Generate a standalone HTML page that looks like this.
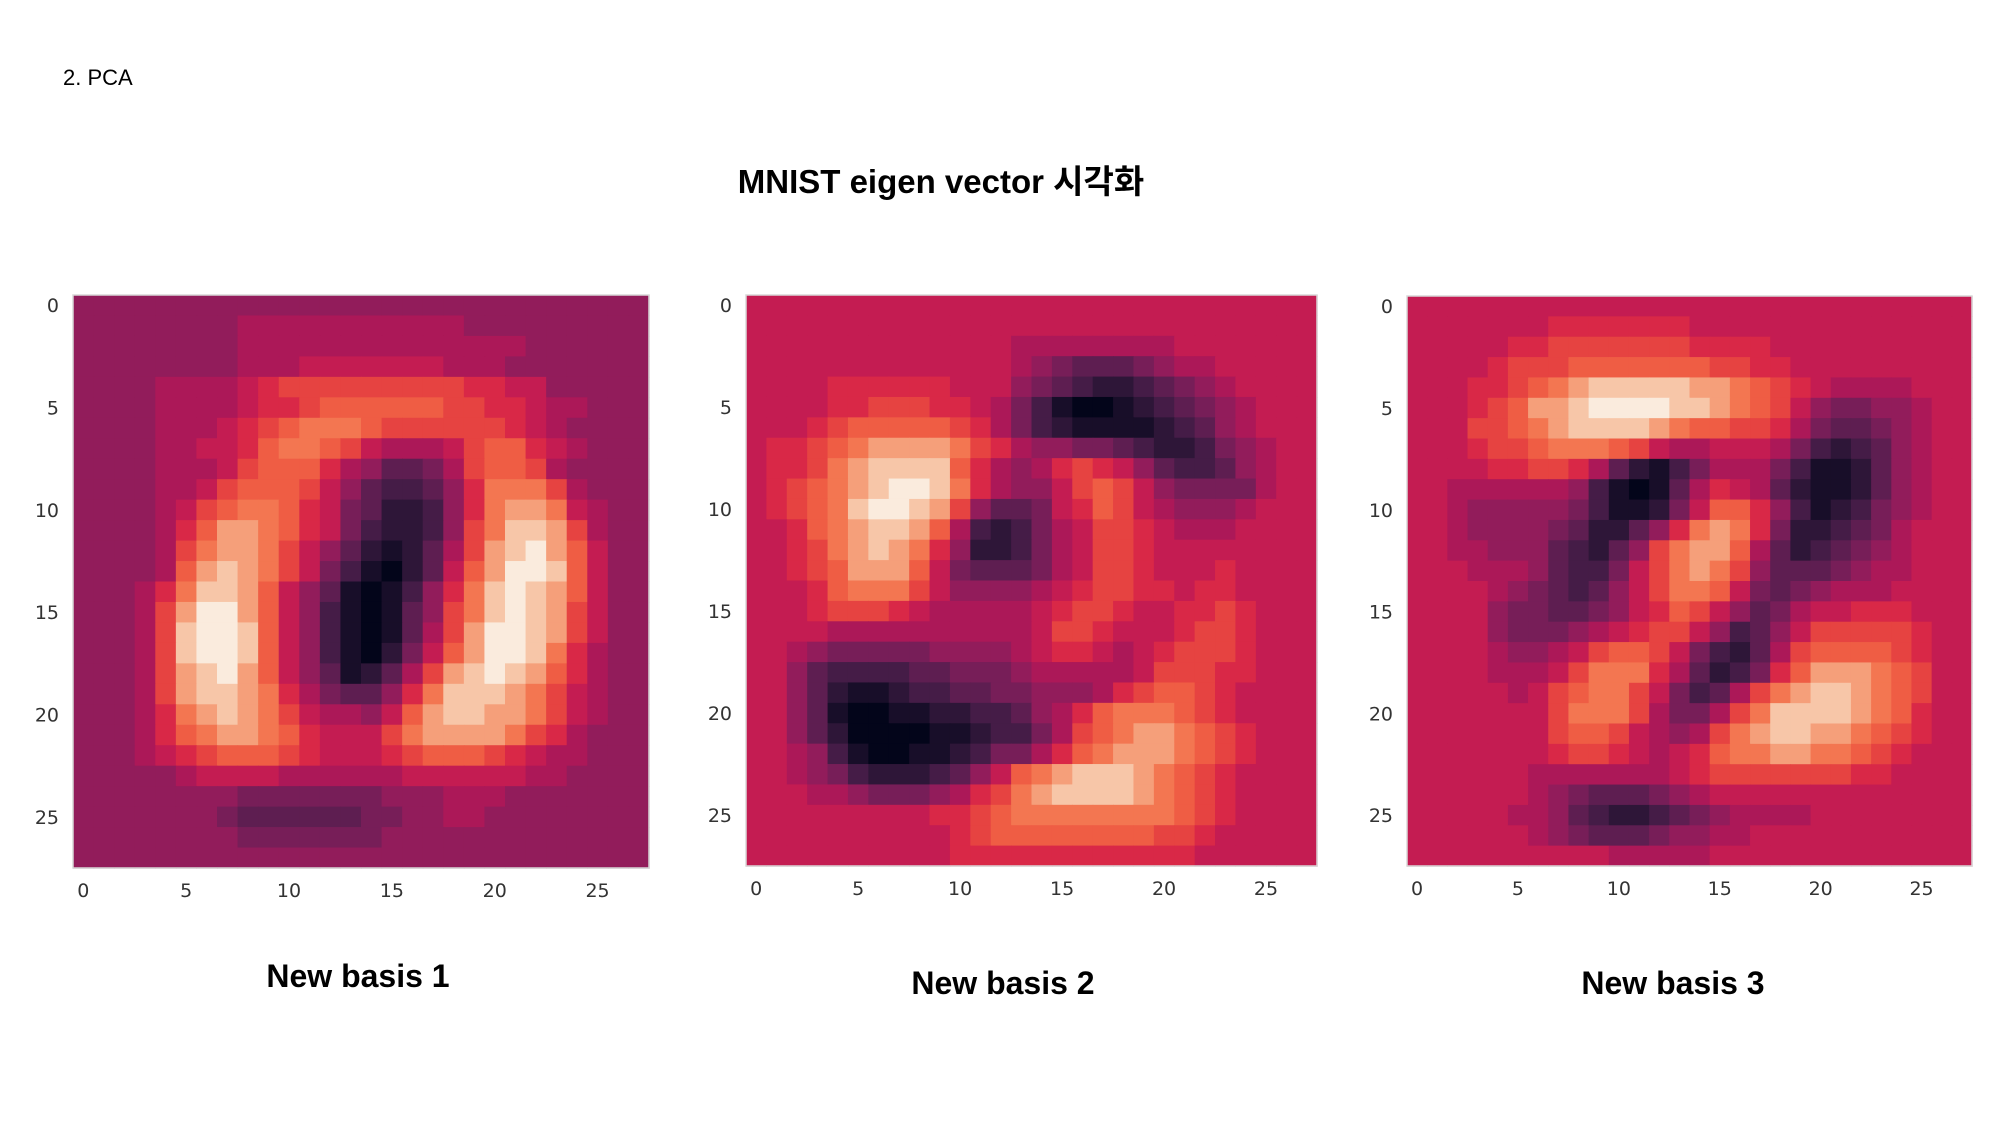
<!DOCTYPE html>
<html><head><meta charset="utf-8"><style>
html,body{margin:0;padding:0;background:#fff;}
svg{display:block;}
</style></head><body>
<svg id="chart" width="2000" height="1125" viewBox="0 0 2000 1125" xmlns="http://www.w3.org/2000/svg">
<text x="63" y="85" font-family="'Liberation Sans','Noto Sans CJK KR',sans-serif" font-size="22" fill="#000">2. PCA</text>
<text x="941" y="193" text-anchor="middle" font-family="'Liberation Sans','Noto Sans CJK KR',sans-serif" font-size="33" font-weight="bold" fill="#000">MNIST eigen vector 시각화</text>
<g id="panels"></g>
</svg>
<script>
const ticks = [0,5,10,15,20,25];
const tickLabels = ["0","5","10","15","20","25"];
const panelTitles = ["New basis 1","New basis 2","New basis 3"];
const basis1 = [
"6666666666666666666666666666",
"6666666677777777777666666666",
"6666666677777777777777666666",
"6666666677788888887776666666",
"6666777789aaaaaaaaa998866666",
"66667777899abbbbbbaa99877666",
"666677789abcccbaaaaaa9876666",
"666677889bccba87778abb987666",
"66667778abbb9764457abba76666",
"6666778abbba86433469ccca7666",
"666678abccb985422369cddc8766",
"666679bddcb98532236aceeda766",
"66667acddca86421247adefdb866",
"66667bdedca85310248bdffeb866",
"66679ceedb864101369cefedb866",
"6667adffdb86310146acefeda866",
"6667aeffeb86310147adffeda866",
"6667aeffeb86310258bdffec9766",
"6667adefdb8641247adefedb9766",
"6667adeedc9754469ceeedca8766",
"66679cdedca87768bdeeddca8766",
"66679bcddcb9888acddddca97666",
"666789abbba98889abbba9877666",
"6666678888777777888888776666",
"6666666655555556667776666666",
"6666666544444455667766666666",
"6666666655555556666666666666",
"6666666666666666666666666666"];
const basis2 = [
"8888888888888888888888888888",
"8888888888888888888888888888",
"8888888888888777777778888888",
"8888888888888765444567788888",
"8888999999888654322345678888",
"888899aaa9987531001234567888",
"8889abbbbba97532111123467888",
"899abcddddca9766554322356788",
"899acdeeeeb97679a98643346788",
"89abcdeffec97668aba865555788",
"89abceffeda644589ba876667888",
"889bcdeedb7323578aa987778888",
"889acdedc96223578aa988888888",
"889abdddb85444578aa988898888",
"8889bccca86666789aa998998888",
"8889aaa987777789aa98899a9888",
"888877777777778aa98889aa9888",
"887655555666678998789aaa9888",
"88643333445556777778aaa99888",
"8864211233445566679abba98888",
"88641001122334679bcccba98888",
"8864200001123357abcddcba9888",
"8876310011235579bcdddcba9888",
"8876532223468bcdeeedcba98888",
"888776555679acdeeeedcba98888",
"88888888899abccccccccba98888",
"88888888889abbbbbbbbaa988888",
"8888888888999999999999888888"];
const basis3 = [
"8888888888888888888888888888",
"8888888999999988888888888888",
"8888899aaaaaaa99998888888888",
"88889aaabbbbbbbaa99888888888",
"88899abcdeeeeeddcba987777888",
"8889abddeffffeedcba865566788",
"888aabcdeeeedcbbaa9754456788",
"8889aabcccba8778887532346788",
"888899aa97421357775311246788",
"8877777763101479874211246788",
"887666665311258bb96312356788",
"88766665422469cdc95223457888",
"887766643246acddb74234567888",
"888777643358acdca64445677888",
"888876543468accb854567778888",
"8888655445689ba8645788999888",
"888865556789aa863468aaaaa988",
"888876678abba853247abbbba988",
"88887778accc9742359bdddcba88",
"8888878abcca85347acdeedcba88",
"8888888accca7557aceeeedcb988",
"8888888abba8767acdeeddcba988",
"88888889aa98789bccddccba9888",
"888888777777789aaaaaaa998888",
"8888887654445678888888888888",
"8888877643223456777788888888",
"8888887654445667788888888888",
"8888888888777778888888888888"];
const panelData = [basis1, basis2, basis3];

const rocket = ["#03051A","#221331","#451C47","#6A1F56","#921C5B","#B91657","#D92847","#ED503E","#F37651","#F6B48E","#FAEBDD"];
function hex(c){return [parseInt(c.slice(1,3),16),parseInt(c.slice(3,5),16),parseInt(c.slice(5,7),16)];}
function colorScale(v){
  let t=Math.max(0,Math.min(1,v/15))*10; let i=Math.min(9,Math.floor(t)); let f=t-i;
  const a=hex(rocket[i]), b=hex(rocket[i+1]);
  return "rgb("+a.map((x,k)=>Math.round(x+(b[k]-x)*f)).join(",")+")";
}
const boxes=[{x:73,y:295,w:576,h:573},{x:746,y:295,w:571,h:571},{x:1407,y:296,w:565,h:570}];
const labelPos=[{x:358,y:976},{x:1003,y:983},{x:1673,y:983}];
const NS="http://www.w3.org/2000/svg";
const root=document.getElementById("panels");
panelData.forEach((rows,p)=>{
  const b=boxes[p];
  const g=document.createElementNS(NS,"g");
  
  
  root.appendChild(g);
  const n=rows.length, cw=b.w/28, ch=b.h/n;
  const xs=c=>b.x+c*cw, ys=r=>b.y+r*ch;
  rows.forEach((row,r)=>{
    for(let c=0;c<28;c++){
      const v=parseInt(row[c]||"8",16);
      const rect=document.createElementNS(NS,"rect");
      
      
      rect.setAttribute("x",xs(c).toFixed(2));rect.setAttribute("y",ys(r).toFixed(2));
      rect.setAttribute("width",(cw+0.6).toFixed(2));rect.setAttribute("height",(ch+0.6).toFixed(2));
      rect.setAttribute("fill",colorScale(v));
      g.appendChild(rect);
    }
  });
  const frame=document.createElementNS(NS,"rect");
  
  
  frame.setAttribute("x",b.x);frame.setAttribute("y",b.y);frame.setAttribute("width",b.w);frame.setAttribute("height",b.h);
  frame.setAttribute("fill","none");frame.setAttribute("stroke","#d8d8d8");frame.setAttribute("stroke-width","1.5");
  g.appendChild(frame);
  ticks.forEach((t,i)=>{
    const ty=document.createElementNS(NS,"text");
    
    
    ty.setAttribute("x",b.x-14);ty.setAttribute("y",ys(t)+ch/2+7);
    ty.setAttribute("text-anchor","end");ty.setAttribute("font-family","'DejaVu Sans','Liberation Sans',sans-serif");
    ty.setAttribute("font-size","19");ty.setAttribute("fill","#333");ty.textContent=tickLabels[i];
    g.appendChild(ty);
    const tx=document.createElementNS(NS,"text");
    
    
    tx.setAttribute("x",xs(t)+cw/2);tx.setAttribute("y",b.y+b.h+29);
    tx.setAttribute("text-anchor","middle");tx.setAttribute("font-family","'DejaVu Sans','Liberation Sans',sans-serif");
    tx.setAttribute("font-size","19");tx.setAttribute("fill","#333");tx.textContent=tickLabels[i];
    g.appendChild(tx);
  });
  const lt=document.createElementNS(NS,"text");
  
  
  lt.setAttribute("x",labelPos[p].x);lt.setAttribute("y",labelPos[p].y+11);
  lt.setAttribute("text-anchor","middle");lt.setAttribute("font-family","'Liberation Sans','Noto Sans CJK KR',sans-serif");
  lt.setAttribute("font-size","32");lt.setAttribute("font-weight","bold");lt.setAttribute("fill","#000");
  lt.textContent=panelTitles[p];
  g.appendChild(lt);
});
</script>
</body></html>
